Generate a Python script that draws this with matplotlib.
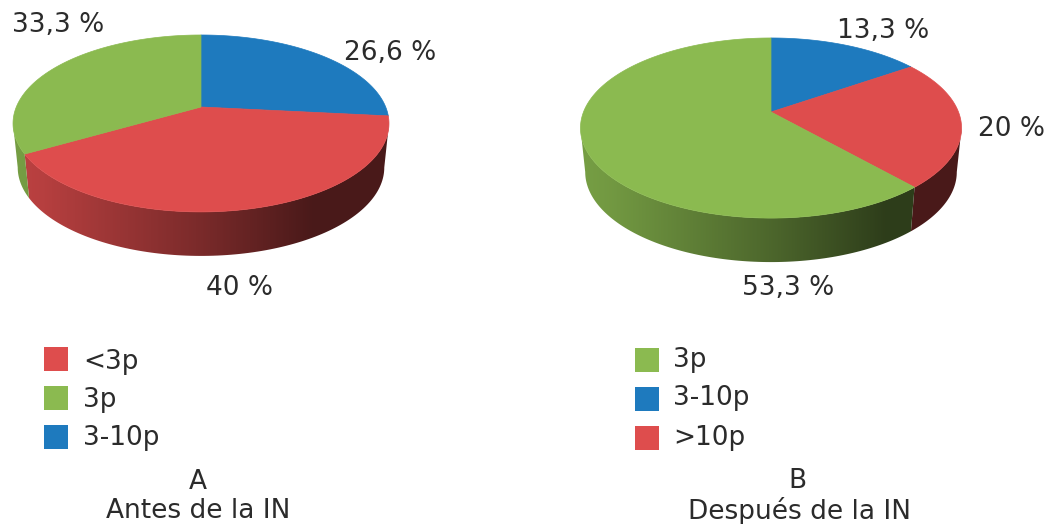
import numpy as np
import matplotlib
matplotlib.use("Agg")
import matplotlib.pyplot as plt
from matplotlib.patches import Polygon, Rectangle

# Data
slices_a = ["3-10p", "<3p", "3p"]
values_a = [26.6, 40, 33.3]
pct_labels_a = ["26,6 %", "40 %", "33,3 %"]
legend_a = ["<3p", "3p", "3-10p"]

slices_b = ["3-10p", ">10p", "3p"]
values_b = [13.3, 20, 53.3]
pct_labels_b = ["13,3 %", "20 %", "53,3 %"]
legend_b = ["3p", "3-10p", ">10p"]

colors = {"<3p": "#DE4D4D", ">10p": "#DE4D4D", "3p": "#8BBA50", "3-10p": "#1E7ABE"}
text_color = "#2b2b2b"
fsize = 19


def rim(theta, geo):
    # circle seen in perspective: the far half is squeezed
    X, Y = np.cos(theta), np.sin(theta)
    w = 1 + geo["k"] * Y
    return geo["cx"] + geo["b"] * X / w, geo["cy"] - geo["a"] * Y / w


def pie3d(ax, slices, values, geo):
    total = sum(values)
    sweeps = np.array(values) / total * 2 * np.pi
    starts = np.pi / 2 - np.concatenate([[0], np.cumsum(sweeps)[:-1]])
    # ends of the front wall, where the rim is widest
    left = np.pi + np.arcsin(geo["k"])
    right = 2 * np.pi - np.arcsin(geo["k"])

    # side walls first
    for name, start, sweep in zip(slices, starts, sweeps):
        t0, t1 = start - sweep, start
        for shift in (0, 2 * np.pi):
            lo, hi = max(t0 + shift, left), min(t1 + shift, right)
            if hi <= lo:
                continue
            t = np.linspace(lo, hi, 120)
            x, y = rim(t, geo)
            xb = geo["cx"] + (x - geo["cx"]) * geo["shrink"]
            yb = y + geo["depth"]
            pts = np.vstack([np.column_stack([x, y]),
                             np.column_stack([xb, yb])[::-1]])
            clip = Polygon(pts, closed=True, fc="none", ec="none")
            ax.add_patch(clip)
            # shade goes dark from left to right
            x_min, x_max = geo["cx"] - geo["rx"], geo["cx"] + geo["rx"]
            xs = np.linspace(x_min, x_max, 256)
            shade = np.interp((xs - x_min) / (x_max - x_min),
                              [0, 0.08, 0.5, 0.8, 1], [0.85, 0.82, 0.55, 0.33, 0.33])
            rgb = np.array(matplotlib.colors.to_rgb(colors[name]))
            img = (shade[:, None] * rgb)[None, :, :]
            im = ax.imshow(img, extent=(x_min, x_max, 524, 0), aspect="auto", zorder=2)
            im.set_clip_path(clip)

    # top face
    for name, start, sweep in zip(slices, starts, sweeps):
        t = np.linspace(start, start - sweep, 200)
        x, y = rim(t, geo)
        pts = np.vstack([[geo["cx"], geo["cy"]], np.column_stack([x, y])])
        ax.add_patch(Polygon(pts, closed=True, fc=colors[name], ec=colors[name],
                             lw=0.5, zorder=3))


def legend(ax, names, x_box, x_text, ys_box, ys_text):
    for name, yb, yt in zip(names, ys_box, ys_text):
        ax.add_patch(Rectangle((x_box, yb), 24, 24, fc=colors[name], ec="none", zorder=3))
        ax.text(x_text, yt, name, fontsize=fsize, color=text_color, va="center", ha="left")


fig = plt.figure(figsize=(10.48, 5.24), dpi=100)
ax = fig.add_axes([0, 0, 1, 1])

geo_a = {"cx": 201, "cy": 107, "a": 85.4, "b": 184.7, "k": 0.186, "rx": 188,
         "depth": 44, "shrink": 0.975}
geo_b = {"cx": 771, "cy": 112, "a": 87.2, "b": 187.5, "k": 0.178, "rx": 190.5,
         "depth": 44, "shrink": 0.975}

pie3d(ax, slices_a, values_a, geo_a)
pie3d(ax, slices_b, values_b, geo_b)

# percent labels
label_pos_a = [(390, 53), (240, 288), (58, 25)]
label_pos_b = [(883, 31), (1011, 129), (788, 288)]
for txt, (x, y) in zip(pct_labels_a + pct_labels_b, label_pos_a + label_pos_b):
    ax.text(x, y, txt, fontsize=fsize, color=text_color, ha="center", va="center")

legend(ax, legend_a, 44, 83, [347, 386, 425], [362, 400, 438])
legend(ax, legend_b, 635, 673, [348, 387, 426], [360, 398, 438])

ax.text(198, 482, "A", fontsize=fsize, color=text_color, ha="center", va="center")
ax.text(198, 511, "Antes de la IN", fontsize=fsize, color=text_color, ha="center", va="center")
ax.text(797, 481, "B", fontsize=fsize, color=text_color, ha="center", va="center")
ax.text(799, 511, "Después de la IN", fontsize=fsize, color=text_color, ha="center", va="center")

ax.set_xlim(0, 1048)
ax.set_ylim(524, 0)
ax.axis("off")

fig.savefig("out.png", dpi=100)
